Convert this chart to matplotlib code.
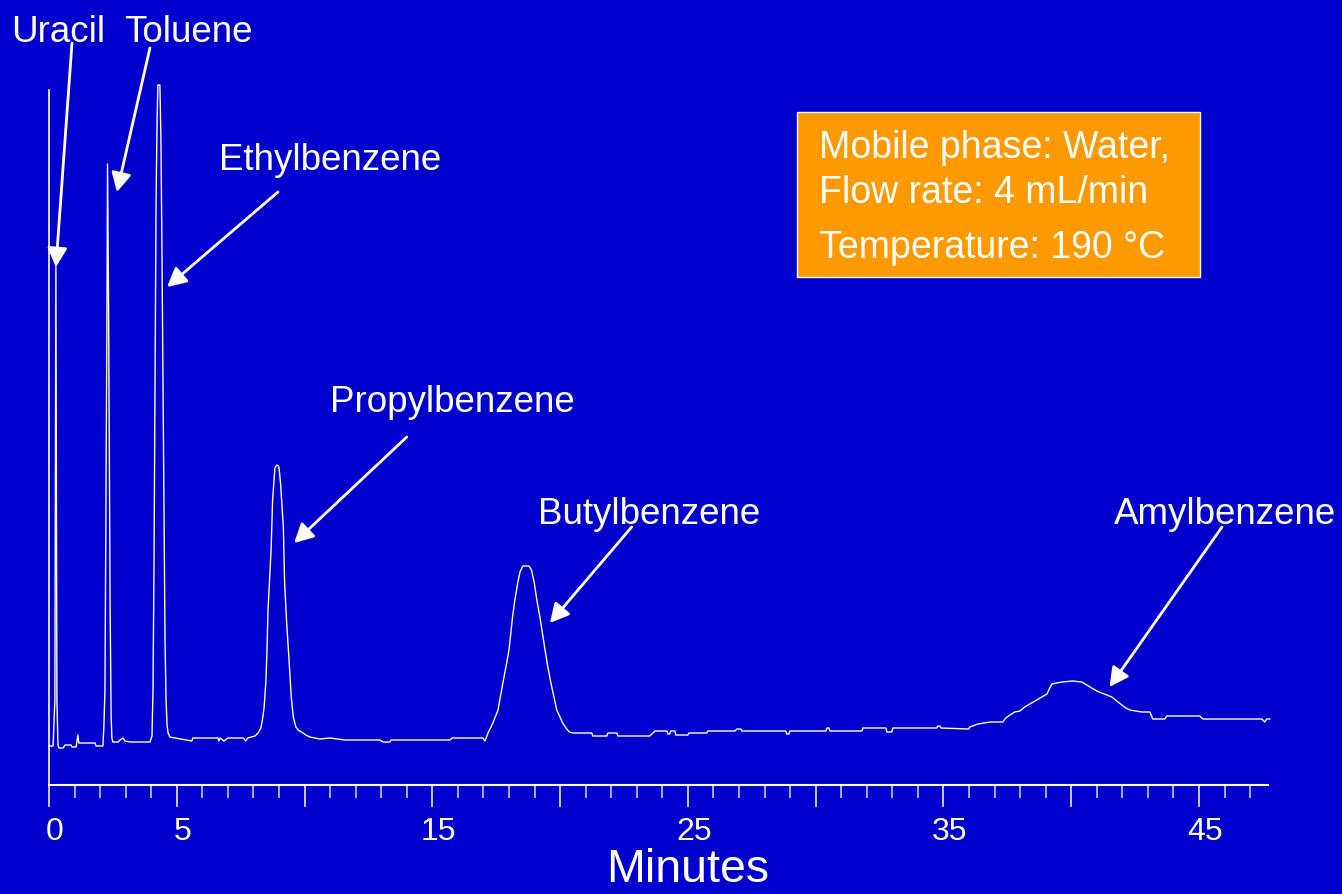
import matplotlib
matplotlib.use("Agg")
import matplotlib.pyplot as plt
from matplotlib.ticker import FixedLocator, MultipleLocator
from matplotlib.transforms import ScaledTranslation

# chromatogram trace: time (min), detector signal (a.u.)
time_min = [
    0.00, 0.16, 0.23, 0.27, 0.31, 0.35, 0.39, 0.55, 0.63, 0.86, 0.90, 1.06, 1.10, 1.13, 1.17,
    1.80, 1.84, 2.11, 2.15, 2.19, 2.23, 2.27, 2.29, 2.33, 2.35, 2.39, 2.43, 2.46, 2.50, 2.70,
    2.78, 2.90, 2.97, 3.17, 3.56, 3.95, 4.03,
    4.07, 4.11, 4.15, 4.19, 4.23, 4.26, 4.34, 4.38, 4.42, 4.46, 4.50, 4.54, 4.58, 4.62, 4.66,
    4.73, 4.93, 5.59, 5.63, 5.71, 6.61, 6.65, 6.69, 6.85, 7.00, 7.10, 7.60, 7.70, 7.78, 8.06, 8.18,
    8.29, 8.35, 8.42, 8.49, 8.53, 8.57, 8.63, 8.69, 8.75, 8.80, 8.84, 8.91, 8.98, 9.01, 9.06,
    9.17, 9.22, 9.30, 9.40, 9.48, 9.56, 9.66, 9.75, 9.94, 10.05, 10.21,
    10.60, 11.00, 11.58, 12.95, 13.07, 13.34, 13.38, 13.73, 15.69, 15.77, 16.86,
    16.98, 17.06, 17.18, 17.37, 17.57, 17.76, 17.88, 18.00, 18.14, 18.23, 18.34, 18.43, 18.54,
    18.78, 18.88, 18.99, 19.09, 19.21, 19.41, 19.52, 19.64, 19.87, 20.10, 20.23, 20.36, 20.50,
    21.24, 21.28, 21.83, 21.87, 22.22, 22.26, 23.51, 23.71, 24.18, 24.22, 24.29, 24.33, 24.49,
    24.53, 25.00, 25.04, 25.74, 25.78, 26.84, 26.92, 27.07, 27.11, 28.83, 28.87, 28.95, 28.99,
    30.40, 30.44, 30.52, 30.56, 31.81, 31.85, 32.75, 32.79, 32.98, 33.02, 34.74, 34.78, 34.86,
    34.90, 35.99,
    36.03, 36.35, 36.82, 37.32, 37.44, 37.60, 37.79, 37.99, 38.18, 38.38, 38.65, 38.85, 39.05,
    39.16, 39.24, 39.63, 40.06, 40.41, 40.61, 40.80, 41.00, 41.20, 41.39, 41.59, 41.78, 41.98,
    42.14, 42.29, 42.76, 43.08, 43.19, 43.66, 43.74, 45.03, 45.15, 47.46, 47.57, 47.65, 47.77,
]
signal = [
    39, 39, 85, 525, 85, 40, 37, 37, 40, 40, 38, 38, 45, 50, 42,
    42, 39, 39, 60, 95, 285, 485, 621, 485, 385, 185, 70, 47, 43, 43,
    45, 47, 44, 43, 43, 43, 49,
    95, 225, 405, 585, 665, 700, 700, 645, 535, 405, 265, 145, 85, 60, 52,
    48, 47, 44, 47, 47, 47, 44, 47, 44, 47, 47, 47, 44, 47, 49, 52,
    57, 65, 78, 105, 135, 175, 205, 235, 285, 302, 317, 320, 319, 315, 302,
    258, 202, 162, 122, 88, 68, 58, 55, 52, 50, 48,
    46, 47, 45, 45, 43, 43, 45, 45, 45, 47, 47,
    47, 44, 52, 62, 75, 102, 118, 135, 168, 185, 202, 213, 219,
    219, 215, 202, 185, 168, 135, 118, 102, 75, 62, 57, 53, 52,
    52, 49, 49, 52, 52, 49, 49, 54, 54, 51, 51, 54, 54,
    50, 50, 52, 52, 54, 54, 56, 56, 54, 54, 51, 51, 54,
    54, 57, 57, 54, 54, 57, 57, 53, 53, 57, 57, 59, 59,
    57, 56,
    58, 61, 63, 63, 67, 70, 73, 74, 78, 81, 85, 88, 91,
    97, 101, 103, 104, 103, 100, 97, 94, 92, 90, 88, 84, 80,
    77, 75, 73, 73, 66, 66, 69, 69, 66, 66, 63, 66, 66,
]

major_ticks = [0, 5, 10, 15, 20, 25, 30, 35, 40, 45]
major_labels = ["0", "5", "", "15", "", "25", "", "35", "", "45"]

# peak labels: name, text position, arrow start, arrow tip (time, signal)
peak_names = ["Uracil", "Toluene", "Ethylbenzene", "Propylbenzene", "Butylbenzene", "Amylbenzene"]
label_pos = [(0.35, 753), (5.44, 752), (11.0, 624), (15.8, 383), (23.5, 271), (46.0, 271)]
arrow_from = [(0.90, 742), (3.95, 737), (8.96, 593), (14.0, 348), (22.8, 258), (45.9, 258)]
arrow_to = [(0.27, 518), (2.66, 593), (4.62, 498), (9.59, 242), (19.6, 162), (41.5, 98)]

conditions = ["Mobile phase: Water,", "Flow rate: 4 mL/min", "Temperature: 190 \u00b0C"]

BG = "#0000CC"
FONT = "Liberation Sans"

fig = plt.figure(figsize=(13.42, 8.94), dpi=100)
fig.patch.set_facecolor(BG)
ax = fig.add_axes([49 / 1342, 109 / 894, 1219 / 1342, 700 / 894])
ax.set_facecolor(BG)

ax.plot(time_min, signal, color="white", lw=1.0, clip_on=False)

ax.set_xlim(0, 47.7)
ax.set_ylim(0, 700)

for side in ["top", "right"]:
    ax.spines[side].set_visible(False)
ax.spines["left"].set_color("white")
ax.spines["bottom"].set_color("white")
ax.spines["left"].set_linewidth(1.2)
ax.spines["bottom"].set_linewidth(1.5)
ax.spines["left"].set_bounds(0, 695)

ax.set_yticks([])
ax.xaxis.set_major_locator(FixedLocator(major_ticks))
ax.xaxis.set_minor_locator(MultipleLocator(1))
ax.set_xticklabels(major_labels)
ax.tick_params(axis="x", which="major", length=16, width=1.1, color="white",
               labelcolor="white", labelsize=23, pad=7)
ax.tick_params(axis="x", which="minor", length=9, width=1.1, color="#ddddff")
shift = ScaledTranslation(6 / 100, 0, fig.dpi_scale_trans)
for lbl in ax.get_xticklabels():
    lbl.set_fontfamily(FONT)
    lbl.set_transform(lbl.get_transform() + shift)

fig.text(688 / 1342, 12 / 894, "Minutes", color="white", fontsize=33.5,
         family=FONT, ha="center", va="baseline")

for name, (tx, ty), start, tip in zip(peak_names, label_pos, arrow_from, arrow_to):
    ax.text(tx, ty, name, color="white", fontsize=26.5, family=FONT,
            ha="center", va="center", clip_on=False)
    ax.annotate("", xy=tip, xytext=start, annotation_clip=False,
                arrowprops=dict(arrowstyle="-|>,head_length=1.15,head_width=0.6",
                                color="white", lw=2, shrinkA=0, shrinkB=0))

# orange conditions box
box = plt.Rectangle((797 / 1342, 1 - 277 / 894), 403 / 1342, 165 / 894,
                    transform=fig.transFigure, facecolor="#FF9900",
                    edgecolor="white", lw=1.0)
fig.patches.append(box)
for line, base_y in zip(conditions, [158, 203, 258]):
    fig.text(819 / 1342, 1 - base_y / 894, line, color="white", fontsize=27,
             family=FONT, ha="left", va="baseline")

fig.savefig("out.png", dpi=100, facecolor=BG)
